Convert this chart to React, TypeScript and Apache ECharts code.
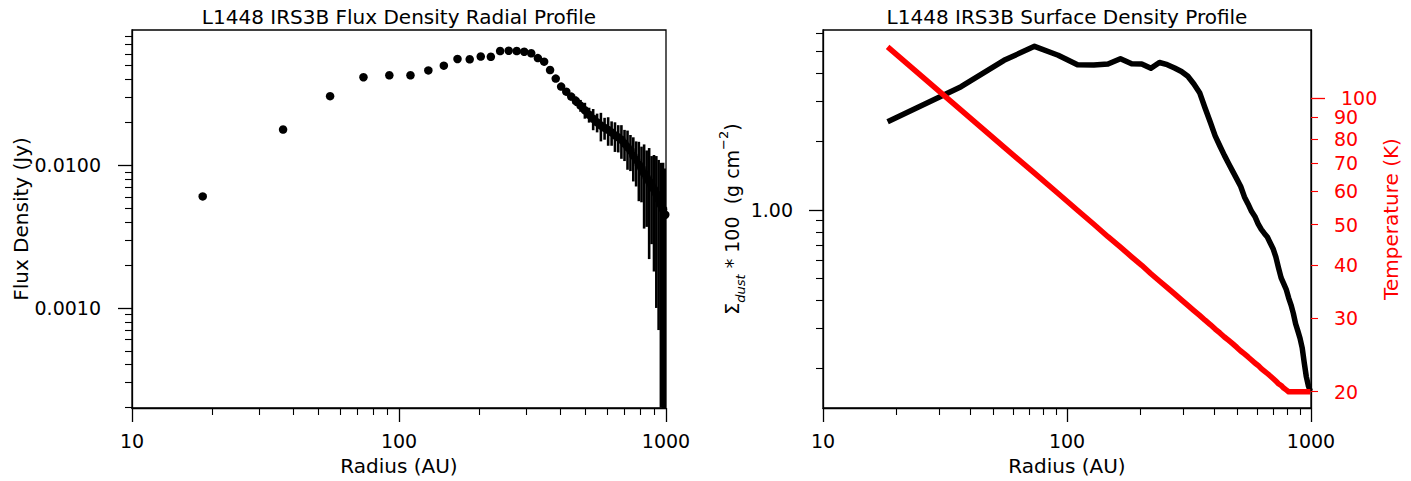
import React, { useEffect, useRef } from "react";
import * as echarts from "echarts";

// Radial bins (AU)
const radiusAU = [
  18.4, 36.8, 55.2, 73.6, 92.0, 110.4, 128.8, 147.2, 165.6, 184.0,
  202.4, 220.8, 239.2, 257.6, 276.0, 294.4, 312.8, 331.2, 349.6, 368.0,
  386.4, 404.8, 423.2, 441.6, 460.0, 478.4, 496.8, 515.2, 533.6, 552.0,
  570.4, 588.8, 607.2, 625.6, 644.0, 662.4, 680.8, 699.2, 717.6, 736.0,
  754.4, 772.8, 791.2, 809.6, 828.0, 846.4, 864.8, 883.2, 901.6, 920.0,
  938.4, 956.8, 975.2, 993.6,
];

// Flux density radial profile (Jy)
const fluxJy = [
  0.00605, 0.0178, 0.0305, 0.0414, 0.0427, 0.0427, 0.0462, 0.0499, 0.0556, 0.0553,
  0.0578, 0.0576, 0.0632, 0.0635, 0.0632, 0.0625, 0.0609, 0.0564, 0.0532, 0.0465,
  0.0405, 0.0356, 0.0328, 0.0303, 0.0282, 0.0262, 0.0243, 0.0226, 0.0212, 0.0200,
  0.0190, 0.0183, 0.0177, 0.0170, 0.0162, 0.0157, 0.0151, 0.0142, 0.0134, 0.0127,
  0.0117, 0.0109, 0.0101, 0.0095, 0.0088, 0.0082, 0.0077, 0.0072, 0.0068, 0.0063,
  0.0058, 0.0053, 0.0049, 0.0045,
];

// Flux density uncertainty (Jy)
const fluxErrJy = [
  0.0003, 0.0006, 0.0009, 0.0010, 0.0010, 0.0011, 0.0011, 0.0012, 0.0012, 0.0013,
  0.0013, 0.0014, 0.0014, 0.0015, 0.0015, 0.0015, 0.0016, 0.0016, 0.0016, 0.0017,
  0.0017, 0.0017, 0.0018, 0.0018, 0.0022, 0.0025, 0.0031, 0.0027, 0.0036, 0.0030,
  0.0043, 0.0032, 0.0040, 0.0033, 0.0038, 0.0034, 0.0040, 0.0035, 0.0041, 0.0036,
  0.0040, 0.0038, 0.0045, 0.0040, 0.0052, 0.0045, 0.0055, 0.0044, 0.0050, 0.0053,
  0.0051, 0.0051, 0.0055, 0.0050,
];

// Dust surface density * 100 (g cm^-2)
const sigmaDust100 = [
  2.449, 3.493, 4.565, 5.262, 4.808, 4.361, 4.352, 4.397, 4.640, 4.411,
  4.397, 4.210, 4.465, 4.366, 4.223, 4.076, 3.882, 3.590, 3.287, 2.814,
  2.442, 2.121, 1.914, 1.740, 1.598, 1.475, 1.367, 1.269, 1.141, 1.063,
  0.986, 0.936, 0.868, 0.821, 0.788, 0.760, 0.715, 0.675, 0.621, 0.555,
  0.502, 0.473, 0.447, 0.410, 0.382, 0.350, 0.315, 0.293, 0.272, 0.247,
  0.212, 0.184, 0.168, 0.159,
];

// Temperature profile (K)
const temperatureK = [
  132.5, 93.7, 76.5, 66.3, 59.3, 54.1, 50.1, 46.8, 44.2, 41.9,
  40.0, 38.2, 36.7, 35.4, 34.2, 33.1, 32.1, 31.2, 30.4, 29.6,
  28.9, 28.2, 27.6, 27.0, 26.5, 26.0, 25.5, 25.0, 24.6, 24.2,
  23.8, 23.4, 23.1, 22.7, 22.4, 22.1, 21.8, 21.5, 21.2, 20.9,
  20.7, 20.4, 20.2, 20.0, 20.0, 20.0, 20.0, 20.0, 20.0, 20.0,
  20.0, 20.0, 20.0, 20.0,
];

// Tick values
const xMajor = [10, 100, 1000];
const xMinor = [20, 30, 40, 50, 60, 70, 80, 90, 200, 300, 400, 500, 600, 700, 800, 900];
const fluxMajor = [0.001, 0.01];
const fluxMinor = [
  0.0002, 0.0003, 0.0004, 0.0005, 0.0006, 0.0007, 0.0008, 0.0009,
  0.002, 0.003, 0.004, 0.005, 0.006, 0.007, 0.008, 0.009,
  0.02, 0.03, 0.04, 0.05, 0.06, 0.07, 0.08,
];
const sigmaMajor = [1];
const sigmaMinor = [0.2, 0.3, 0.4, 0.5, 0.6, 0.7, 0.8, 0.9, 2, 3, 4, 5, 6];
const tempMajor = [100];
const tempMinor = [20, 30, 40, 50, 60, 70, 80, 90];

const FONT = "DejaVu Sans";
const BLACK = "#000000";
const RED = "#ff0000";
const TICK_FS = 19;
const LABEL_FS = 20;
const TITLE_FS = 20;
const MAJOR_LEN = 14;
const MINOR_LEN = 7;

function mainAxis(extra: any) {
  return {
    type: "log",
    logBase: 10,
    splitLine: { show: false },
    minorTick: { show: false },
    axisLine: { show: true, lineStyle: { color: BLACK, width: 1.3 } },
    ...extra,
  };
}

function minorAxis(extra: any) {
  return {
    type: "log",
    logBase: 10,
    splitLine: { show: false },
    axisLine: { show: false },
    axisLabel: { show: false },
    ...extra,
  };
}

export default function App() {
  const ref = useRef<HTMLDivElement>(null);

  useEffect(() => {
    document.body.style.margin = "0";
    if (!ref.current) return;
    const chart = echarts.init(ref.current, undefined, { renderer: "svg" });

    const errData = radiusAU.map((r, i) => [
      r,
      Math.max(fluxJy[i] - fluxErrJy[i], 1e-7),
      fluxJy[i] + fluxErrJy[i],
    ]);
    const fluxData = radiusAU.map((r, i) => [r, fluxJy[i]]);
    const sigmaData = radiusAU.map((r, i) => [r, sigmaDust100[i]]);
    const tempData = radiusAU.map((r, i) => [r, temperatureK[i]]);

    const tickStyle = { fontFamily: FONT, fontSize: TICK_FS, color: BLACK };
    const nameStyle = { fontFamily: FONT, fontSize: LABEL_FS, color: BLACK };

    const xMain = (gridIndex: number) =>
      mainAxis({
        gridIndex,
        position: "bottom",
        min: 9.9999,
        max: 1000.001,
        axisTick: { show: true, length: MAJOR_LEN, customValues: xMajor, lineStyle: { color: BLACK, width: 1.3 } },
        axisLabel: {
          ...tickStyle,
          customValues: xMajor,
          margin: 23,
          formatter: (v: number) => String(Math.round(v)),
        },
        name: "Radius (AU)",
        nameLocation: "middle",
        nameGap: 48,
        nameTextStyle: nameStyle,
      });
    const xMin = (gridIndex: number) =>
      minorAxis({
        gridIndex,
        position: "bottom",
        min: 9.9999,
        max: 1000.001,
        axisTick: { show: true, length: MINOR_LEN, customValues: xMinor, lineStyle: { color: BLACK, width: 1.1 } },
      });

    const option: any = {
      animation: false,
      backgroundColor: "#ffffff",
      textStyle: { fontFamily: FONT },
      grid: [
        { left: 132, top: 30, width: 534, height: 378, show: true, borderColor: BLACK, borderWidth: 1.3, backgroundColor: "transparent" },
        { left: 823, top: 30, width: 488, height: 378, show: true, borderColor: BLACK, borderWidth: 1.3, backgroundColor: "transparent" },
      ],
      graphic: [
        {
          type: "text",
          x: 399,
          y: 17,
          style: {
            text: "L1448 IRS3B Flux Density Radial Profile",
            font: `${TITLE_FS}px '${FONT}'`,
            fill: BLACK,
            textAlign: "center",
            textVerticalAlign: "middle",
          },
        },
        {
          type: "text",
          x: 1067,
          y: 17,
          style: {
            text: "L1448 IRS3B Surface Density Profile",
            font: `${TITLE_FS}px '${FONT}'`,
            fill: BLACK,
            textAlign: "center",
            textVerticalAlign: "middle",
          },
        },
      ],
      xAxis: [xMain(0), xMin(0), xMain(1), xMin(1)],
      yAxis: [
        mainAxis({
          gridIndex: 0,
          position: "left",
          min: 0.000199,
          max: 0.0887,
          axisTick: { show: true, length: MAJOR_LEN, customValues: fluxMajor, lineStyle: { color: BLACK, width: 1.3 } },
          axisLabel: {
            ...tickStyle,
            customValues: fluxMajor,
            margin: 31,
            formatter: (v: number) => v.toFixed(4),
          },
          name: "Flux Density (Jy)",
          nameLocation: "middle",
          nameRotate: 90,
          nameGap: 101,
          nameTextStyle: nameStyle,
        }),
        minorAxis({
          gridIndex: 0,
          position: "left",
          min: 0.000199,
          max: 0.0887,
          axisTick: { show: true, length: MINOR_LEN, customValues: fluxMinor, lineStyle: { color: BLACK, width: 1.1 } },
        }),
        mainAxis({
          gridIndex: 1,
          position: "left",
          min: 0.134,
          max: 6.21,
          axisTick: { show: true, length: MAJOR_LEN, customValues: sigmaMajor, lineStyle: { color: BLACK, width: 1.3 } },
          axisLabel: {
            ...tickStyle,
            customValues: sigmaMajor,
            margin: 30,
            formatter: (v: number) => v.toFixed(2),
          },
          name: "{n|Σ}{sub|dust}{n| * 100  (g cm}{sup|−2}{n|)}",
          nameLocation: "middle",
          nameRotate: 90,
          nameGap: 70,
          nameTextStyle: {
            ...nameStyle,
            rich: {
              n: { fontFamily: FONT, fontSize: 19, color: BLACK, lineHeight: 30 },
              sub: { fontFamily: FONT, fontSize: 13, fontStyle: "italic", color: BLACK, lineHeight: 16, verticalAlign: "bottom" },
              sup: { fontFamily: FONT, fontSize: 13, color: BLACK, lineHeight: 16, verticalAlign: "top" },
            },
          },
        }),
        minorAxis({
          gridIndex: 1,
          position: "left",
          min: 0.134,
          max: 6.21,
          axisTick: { show: true, length: MINOR_LEN, customValues: sigmaMinor, lineStyle: { color: BLACK, width: 1.1 } },
        }),
        mainAxis({
          gridIndex: 1,
          position: "right",
          min: 18.29,
          max: 145.4,
          axisTick: { show: true, length: MAJOR_LEN, customValues: tempMajor, lineStyle: { color: RED, width: 1.3 } },
          axisLabel: {
            fontFamily: FONT,
            fontSize: TICK_FS,
            color: RED,
            customValues: tempMajor,
            margin: 30,
            formatter: (v: number) => String(Math.round(v)),
          },
          name: "Temperature (K)",
          nameLocation: "middle",
          nameRotate: 90,
          nameGap: 70,
          nameTextStyle: { fontFamily: FONT, fontSize: LABEL_FS, color: RED },
        }),
        minorAxis({
          gridIndex: 1,
          position: "right",
          min: 18.29,
          max: 145.4,
          axisTick: { show: true, length: MINOR_LEN, customValues: tempMinor, lineStyle: { color: RED, width: 1.1 } },
          axisLabel: {
            show: true,
            fontFamily: FONT,
            fontSize: TICK_FS,
            color: RED,
            customValues: tempMinor,
            margin: 23,
            formatter: (v: number) => String(Math.round(v)),
          },
        }),
      ],
      series: [
        {
          type: "custom",
          name: "flux error",
          xAxisIndex: 0,
          yAxisIndex: 0,
          clip: true,
          z: 2,
          encode: { x: 0, y: [1, 2] },
          data: errData,
          renderItem: (params: any, api: any) => {
            const x = api.value(0);
            const p1 = api.coord([x, api.value(1)]);
            const p2 = api.coord([x, api.value(2)]);
            return {
              type: "line",
              shape: { x1: p1[0], y1: p1[1], x2: p2[0], y2: p2[1] },
              style: { stroke: BLACK, lineWidth: 2.6 },
            };
          },
        },
        {
          type: "scatter",
          name: "flux",
          xAxisIndex: 0,
          yAxisIndex: 0,
          symbol: "circle",
          symbolSize: 8.5,
          itemStyle: { color: BLACK, opacity: 1 },
          z: 3,
          data: fluxData,
        },
        {
          type: "line",
          name: "sigma",
          xAxisIndex: 2,
          yAxisIndex: 2,
          showSymbol: false,
          symbol: "none",
          lineStyle: { color: BLACK, width: 5.5, join: "round", cap: "butt" },
          z: 2,
          data: sigmaData,
        },
        {
          type: "line",
          name: "temperature",
          xAxisIndex: 2,
          yAxisIndex: 4,
          showSymbol: false,
          symbol: "none",
          lineStyle: { color: RED, width: 5.5, join: "round", cap: "butt" },
          z: 3,
          data: tempData,
        },
      ],
    };

    chart.setOption(option);
    return () => chart.dispose();
  }, []);

  return <div ref={ref} style={{ width: 1411, height: 481 }} />;
}
